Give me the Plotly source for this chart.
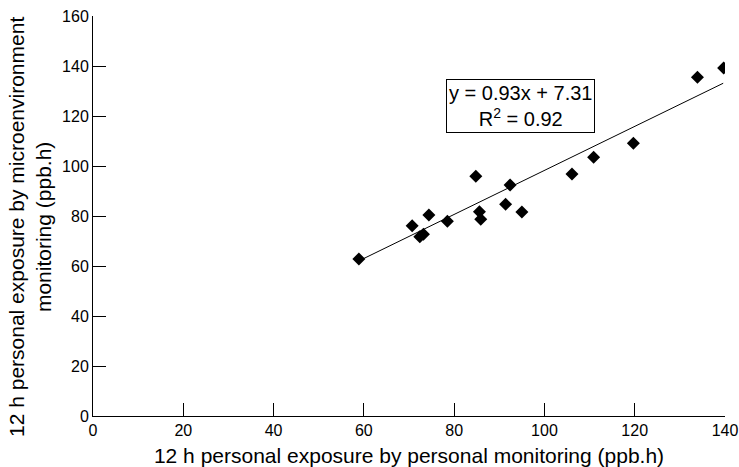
import plotly.graph_objects as go

personal = [58.9, 70.7, 74.4, 72.4, 73.2, 78.5, 84.8, 85.6, 85.9, 91.4, 92.4, 95.0,
            106.1, 110.9, 119.7, 133.9, 139.7]
micro = [62.8, 76.1, 80.4, 71.7, 72.7, 77.9, 95.9, 81.7, 78.7, 84.7, 92.4, 81.6,
         96.8, 103.5, 109.1, 135.5, 139.2]
fit_x = [59.3, 139.6]
fit_y = [62.4, 133.1]
x_ticks = [0, 20, 40, 60, 80, 100, 120, 140]
y_ticks = [0, 20, 40, 60, 80, 100, 120, 140, 160]

x_title = "12 h personal exposure by personal monitoring (ppb.h)"
y_title = "12 h personal exposure by microenvironment<br>monitoring (ppb.h)"
fit_text = "y = 0.93x + 7.31<br>R<sup>2</sup> = 0.92"

font = "Liberation Sans, Arial, sans-serif"

fig = go.Figure()
fig.add_trace(go.Scatter(x=fit_x, y=fit_y, mode="lines",
                         line=dict(color="black", width=1), showlegend=False))
fig.add_trace(go.Scatter(x=personal, y=micro, mode="markers",
                         marker=dict(symbol="diamond", size=10, color="black"),
                         showlegend=False))

fig.add_annotation(x=94.8, y=124.2, xref="x", yref="y",
                   text=fit_text,
                   showarrow=False, bordercolor="black", borderwidth=1,
                   bgcolor="white", borderpad=2,
                   font=dict(family=font, size=20, color="black"))

fig.add_annotation(x=-0.0997, y=0.4725, xref="paper", yref="paper",
                   text=y_title, textangle=-90, showarrow=False,
                   xanchor="center", yanchor="middle",
                   font=dict(family=font, size=21, color="black"))

fig.update_layout(
    width=739, height=467,
    margin=dict(l=93, r=14, t=16, b=51),
    plot_bgcolor="white", paper_bgcolor="white",
    font=dict(family=font, size=16, color="black"),
    xaxis=dict(range=[0, 140], tickvals=x_ticks, ticks="inside", ticklen=13,
               tickcolor="black", showline=True, linecolor="black", linewidth=1,
               showgrid=False, zeroline=False, automargin=False,
               tickfont=dict(size=16),
               title=dict(text=x_title, font=dict(size=21), standoff=11)),
    yaxis=dict(range=[0, 160], tickvals=y_ticks, ticks="inside", ticklen=13,
               tickcolor="black", showline=True, linecolor="black", linewidth=1,
               showgrid=False, zeroline=False, automargin=False,
               tickfont=dict(size=16)),
)

fig.write_html("out.html", config={"displayModeBar": False},
               post_script="document.body.style.margin='0';")
